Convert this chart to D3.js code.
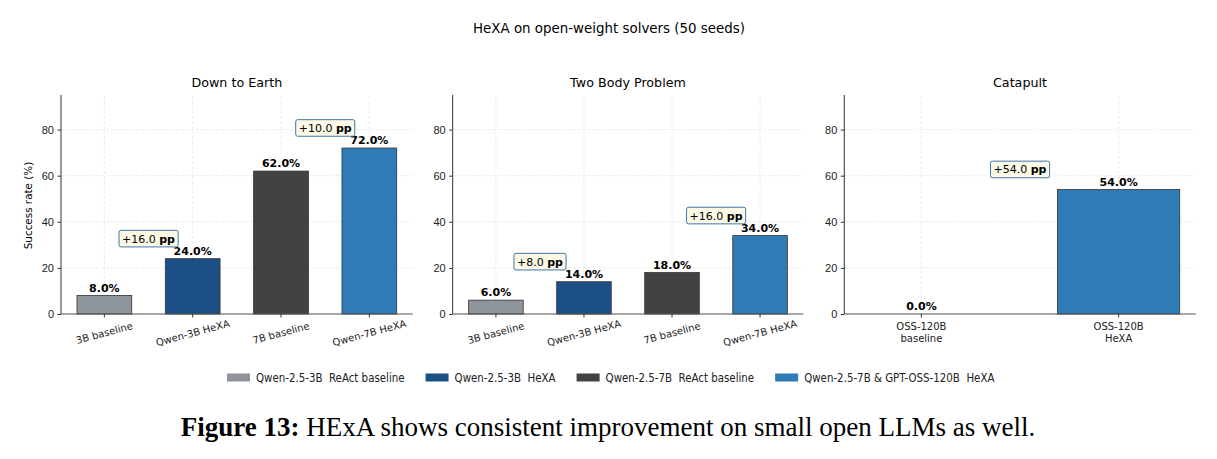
<!DOCTYPE html>
<html>
<head>
<meta charset="utf-8">
<script src="https://cdn.jsdelivr.net/npm/d3@7"></script>
<style>
  body { margin: 0; background: #fff; }
  svg { font-family: "DejaVu Sans", sans-serif; }
</style>
</head>
<body>
<div id="canvas"></div>
<script>
// chart data
var panelTitles = ["Down to Earth", "Two Body Problem", "Catapult"];
var smallLabels = ["3B baseline", "Qwen-3B HeXA", "7B baseline", "Qwen-7B HeXA"];
var dteValues = [8, 24, 62, 72];
var tbpValues = [6, 14, 18, 34];
var catLabels = [["OSS-120B", "baseline"], ["OSS-120B", "HeXA"]];
var catValues = [0, 54];
var yTicks = [0, 20, 40, 60, 80];
var legendLabels = ["Qwen-2.5-3B  ReAct baseline", "Qwen-2.5-3B  HeXA",
                    "Qwen-2.5-7B  ReAct baseline", "Qwen-2.5-7B & GPT-OSS-120B  HeXA"];
var colors = ["#8e959d", "#1c4f86", "#424242", "#2e7bb5"];

var width = 1217, height = 459;
var barW = 0.62;

var svg = d3.select("#canvas").append("svg")
    .attr("width", width)
    .attr("height", height);

svg.append("text")
    .attr("x", 609).attr("y", 33)
    .attr("text-anchor", "middle")
    .style("font-size", "13.4px")
    .text("HeXA on open-weight solvers (50 seeds)");

var y = d3.scaleLinear().domain([0, 95]).range([314, 95]);

var panels = [
  { left: 61,  right: 412.7,  values: dteValues, labels: smallLabels, colors: colors,
    pairs: [[0, 1], [2, 3]], rotate: true },
  { left: 452.7, right: 803.3, values: tbpValues, labels: smallLabels, colors: colors,
    pairs: [[0, 1], [2, 3]], rotate: true },
  { left: 844.3, right: 1195.7, values: catValues, labels: catLabels, colors: [colors[2], colors[3]],
    pairs: [[0, 1]], rotate: false }
];

panels.forEach(function(p, pi) {
  var n = p.values.length;
  // matplotlib-style 5% margin around the bars
  var lo = -barW / 2, hi = n - 1 + barW / 2, m = 0.05 * (hi - lo);
  var x = d3.scaleLinear().domain([lo - m, hi + m]).range([p.left, p.right]);
  var g = svg.append("g");

  // title
  g.append("text")
      .attr("x", (p.left + p.right) / 2).attr("y", 87)
      .attr("text-anchor", "middle")
      .style("font-size", "12.7px")
      .text(panelTitles[pi]);

  // grid
  g.selectAll("line.hgrid").data(yTicks).enter().append("line")
      .attr("x1", p.left).attr("x2", p.right)
      .attr("y1", function(d) { return y(d); }).attr("y2", function(d) { return y(d); })
      .attr("stroke", "#e6e6e6").attr("stroke-width", 0.8).attr("stroke-dasharray", "3,2");
  g.selectAll("line.vgrid").data(d3.range(n)).enter().append("line")
      .attr("x1", function(d) { return x(d); }).attr("x2", function(d) { return x(d); })
      .attr("y1", y(0)).attr("y2", y(95))
      .attr("stroke", "#e6e6e6").attr("stroke-width", 0.8).attr("stroke-dasharray", "3,2");

  // bars
  g.selectAll("rect.bar").data(p.values).enter().append("rect")
      .attr("x", function(d, i) { return x(i - barW / 2); })
      .attr("width", function() { return x(barW) - x(0); })
      .attr("y", function(d) { return y(d); })
      .attr("height", function(d) { return y(0) - y(d); })
      .attr("fill", function(d, i) { return p.colors[i]; })
      .attr("stroke", "#333").attr("stroke-width", 0.8);

  // value labels
  g.selectAll("text.val").data(p.values).enter().append("text")
      .attr("x", function(d, i) { return x(i); })
      .attr("y", function(d) { return y(d) - 4; })
      .attr("text-anchor", "middle")
      .style("font-size", "11px").style("font-weight", "bold")
      .text(function(d) { return d.toFixed(1) + "%"; });

  // axes
  var yAxis = d3.axisLeft(y).tickValues(yTicks).tickSize(3.5).tickPadding(3.5);
  var ya = g.append("g").attr("transform", "translate(" + p.left + ",0)").call(yAxis);
  ya.select(".domain").attr("stroke", "#333").attr("d", "M0," + y(95) + "V" + y(0));
  ya.selectAll(".tick line").attr("stroke", "#333");
  ya.selectAll(".tick text").style("font-size", "11px").attr("fill", "#222");

  var xa = g.append("g").attr("transform", "translate(0," + y(0) + ")");
  xa.append("line").attr("x1", p.left).attr("x2", p.right)
      .attr("stroke", "#555").attr("stroke-width", 1);
  xa.selectAll("line.tk").data(d3.range(n)).enter().append("line")
      .attr("x1", function(d) { return x(d); }).attr("x2", function(d) { return x(d); })
      .attr("y1", 0).attr("y2", 3.5).attr("stroke", "#333");

  if (p.rotate) {
    xa.selectAll("text.tl").data(p.labels).enter().append("text")
        .attr("text-anchor", "middle")
        .attr("dominant-baseline", "central")
        .attr("transform", function(d, i) { return "translate(" + x(i) + ",19) rotate(-15)"; })
        .style("font-size", "10px").attr("fill", "#222")
        .text(function(d) { return d; });
  } else {
    p.labels.forEach(function(lines, i) {
      var t = xa.append("text").attr("text-anchor", "middle")
          .style("font-size", "10px").attr("fill", "#222");
      lines.forEach(function(s, k) {
        t.append("tspan").attr("x", x(i)).attr("y", 16 + k * 11.5).text(s);
      });
    });
  }

  // gain annotations
  p.pairs.forEach(function(pair) {
    var a = p.values[pair[0]], b = p.values[pair[1]];
    var gain = b - a;
    var cx = x((pair[0] + pair[1]) / 2);
    var cy = y(Math.max(a, b) + 8.7);
    var t = g.append("text").attr("x", cx).attr("y", cy)
        .attr("text-anchor", "middle").attr("dominant-baseline", "central")
        .style("font-size", "11px");
    t.append("tspan").text("+" + gain.toFixed(1) + " ");
    t.append("tspan").style("font-weight", "bold").text("pp");
    var bb = t.node().getBBox();
    g.insert("rect", function() { return t.node(); })
        .attr("x", bb.x - 3).attr("y", cy - 8.3)
        .attr("width", bb.width + 6).attr("height", 16.6)
        .attr("rx", 2)
        .attr("fill", "#fdf9e7").attr("stroke", "#3f74aa").attr("stroke-width", 1);
  });
});

// y label
svg.append("text")
    .attr("transform", "translate(32,205.5) rotate(-90)")
    .attr("text-anchor", "middle")
    .style("font-size", "10.4px")
    .text("Success rate (%)");

// legend
var lg = svg.append("g").style("font-family", "'DejaVu Sans Condensed', 'DejaVu Sans', sans-serif");
var lx = 227;
legendLabels.forEach(function(s, i) {
  lg.append("rect").attr("x", lx).attr("y", 373.5).attr("width", 23).attr("height", 8)
      .attr("fill", colors[i]);
  var t = lg.append("text").attr("x", lx + 29).attr("y", 382)
      .style("font-size", "11.4px").style("white-space", "pre").attr("fill", "#222")
      .text(s);
  lx += 29 + t.node().getComputedTextLength() + 21;
});

// caption
var cap = svg.append("text")
    .attr("x", 608).attr("y", 436)
    .attr("text-anchor", "middle")
    .style("font-family", "'Liberation Serif', 'Times New Roman', serif")
    .style("font-size", "27px");
cap.append("tspan").style("font-weight", "bold").text("Figure 13:");
cap.append("tspan").text(" HExA shows consistent improvement on small open LLMs as well.");
</script>
</body>
</html>
